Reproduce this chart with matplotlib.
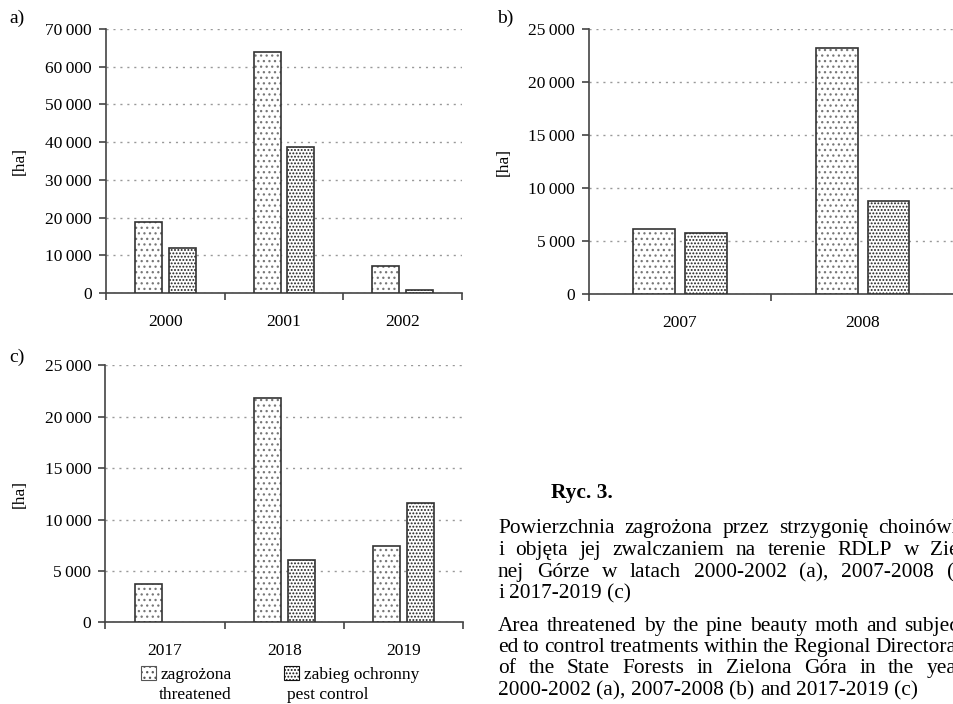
import matplotlib
matplotlib.use("Agg")
import matplotlib.pyplot as plt
from matplotlib.patches import Patch
from matplotlib.ticker import FuncFormatter
import numpy as np

plt.rcParams['font.family'] = ['Liberation Serif', 'DejaVu Serif']
plt.rcParams['hatch.linewidth'] = 0.9

# data
years_a = ['2000', '2001', '2002']
threat_a = [18700, 64000, 7250]
pest_a = [12000, 38800, 900]

years_b = ['2007', '2008']
threat_b = [6150, 23250]
pest_b = [5750, 8800]

years_c = ['2017', '2018', '2019']
threat_c = [3700, 21800, 7450]
pest_c = [0, 6100, 11600]

W, H = 954, 704
fig = plt.figure(figsize=(W / 100, H / 100), dpi=100)


def box(x0, y0, x1, y1):
    return [x0 / W, 1 - y1 / H, (x1 - x0) / W, (y1 - y0) / H]


def fmt(v, pos):
    s = '{:,.0f}'.format(v)
    return s.replace(',', '\u2009')


def panel(rect, years, threat, pest, ymax, step, ylab_x, letter, letter_xy):
    ax = fig.add_axes(rect)
    n = len(years)
    x = np.arange(n)
    bw = 0.227
    off = bw / 2 + 0.028
    # hatched fills
    ax.bar(x - off, threat, bw, facecolor='white', edgecolor='#777777',
           hatch='...', linewidth=0, zorder=3)
    ax.bar(x + off, pest, bw, facecolor='white', edgecolor='#222222',
           hatch='.....', linewidth=0, zorder=3)
    # outlines (no outline for empty bars)
    ec_t = ['#333333' if v > 0 else 'none' for v in threat]
    ec_p = ['#333333' if v > 0 else 'none' for v in pest]
    ax.bar(x - off, threat, bw, fill=False, edgecolor=ec_t,
           linewidth=1.2, zorder=4)
    ax.bar(x + off, pest, bw, fill=False, edgecolor=ec_p,
           linewidth=1.2, zorder=4)

    ax.set_xlim(-0.5, n - 0.5)
    ax.set_ylim(0, ymax)
    ax.set_yticks(np.arange(0, ymax + 1, step))
    ax.yaxis.set_major_formatter(FuncFormatter(fmt))
    ax.yaxis.grid(True, color='#999999', linestyle=(0, (1.5, 3.5)), linewidth=1.0)
    ax.set_axisbelow(True)
    for s in ['top', 'right']:
        ax.spines[s].set_visible(False)
    for s in ['left', 'bottom']:
        ax.spines[s].set_color('#444444')
        ax.spines[s].set_linewidth(1.2)
    ax.tick_params(axis='y', direction='out', length=5, width=1.2,
                   color='#444444', labelsize=12.5, pad=5)
    ax.set_xticks(x)
    ax.set_xticklabels(years)
    ax.tick_params(axis='x', which='major', length=0, labelsize=12.5, pad=15)
    ax.set_xticks(np.arange(n + 1) - 0.5, minor=True)
    ax.tick_params(axis='x', which='minor', direction='out', length=5,
                   width=1.2, color='#444444')
    ax.set_ylabel('[ha]', fontsize=12.5)
    ax.yaxis.set_label_coords(ylab_x, 0.5)
    fig.text(letter_xy[0] / W, 1 - letter_xy[1] / H, letter, fontsize=14,
             ha='left', va='center')
    return ax


panel(box(106, 29, 462, 293), years_a, threat_a, pest_a, 70000, 10000,
      -0.219, 'a)', (9, 18))
panel(box(588.7, 29.3, 954, 294), years_b, threat_b, pest_b, 25000, 5000,
      -0.211, 'b)', (497, 18))
panel(box(105.3, 365.3, 463.3, 622.3), years_c, threat_c, pest_c, 25000, 5000,
      -0.216, 'c)', (9, 357))

# legend under panel c
handles = [Patch(facecolor='white', edgecolor='#555555', hatch='...', linewidth=0.8),
           Patch(facecolor='white', edgecolor='#111111', hatch='.....', linewidth=0.8)]
fig.legend(handles, ['zagrożona', 'zabieg ochronny'], loc='upper left',
           bbox_to_anchor=(141 / W, 1 - 666 / H), ncol=2, frameon=False,
           fontsize=12.5, handlelength=0.85, handleheight=0.85,
           handletextpad=0.3, columnspacing=3.0, borderpad=0, borderaxespad=0)
fig.text(159 / W, 1 - 695 / H, 'threatened', fontsize=12.5, va='center')
fig.text(287 / W, 1 - 695 / H, 'pest control', fontsize=12.5, va='center')

# caption
cap_size = 15.4
fig.text(551 / W, 1 - 498 / H, 'Ryc. 3.', fontsize=cap_size, fontweight='bold',
         va='baseline')

renderer = fig.canvas.get_renderer()


def justified(line, y, x0=498, x1=972, just=True, size=cap_size):
    words = line.split(' ')
    texts = [fig.text(0, 1 - y / H, w, fontsize=size, va='baseline') for w in words]
    widths = [t.get_window_extent(renderer).width for t in texts]
    space = size * 0.25 * 100 / 72
    if just and len(words) > 1:
        gap = (x1 - x0 - sum(widths)) / (len(words) - 1)
        gap = max(gap, space * 0.6)
    else:
        gap = space
    xp = x0
    for t, w in zip(texts, widths):
        t.set_x(xp / W)
        xp += w + gap


pl_lines = ['Powierzchnia zagrożona przez strzygonię choinówką',
            'i objęta jej zwalczaniem na terenie RDLP w Ziel-',
            'nej Górze w latach 2000-2002 (a), 2007-2008 (b)',
            'i 2017-2019 (c)']
en_lines = ['Area threatened by the pine beauty moth and subject-',
            'ed to control treatments within the Regional Directorate',
            'of the State Forests in Zielona Góra in the years',
            '2000-2002 (a), 2007-2008 (b) and 2017-2019 (c)']
pl_y = [533, 555, 577, 598]
en_y = [631, 652, 673, 695]
for i, (ln, y) in enumerate(zip(pl_lines, pl_y)):
    justified(ln, y, just=(i < 3))
for i, (ln, y) in enumerate(zip(en_lines, en_y)):
    justified(ln, y, just=(i < 3))

fig.savefig('out.png', dpi=100)
